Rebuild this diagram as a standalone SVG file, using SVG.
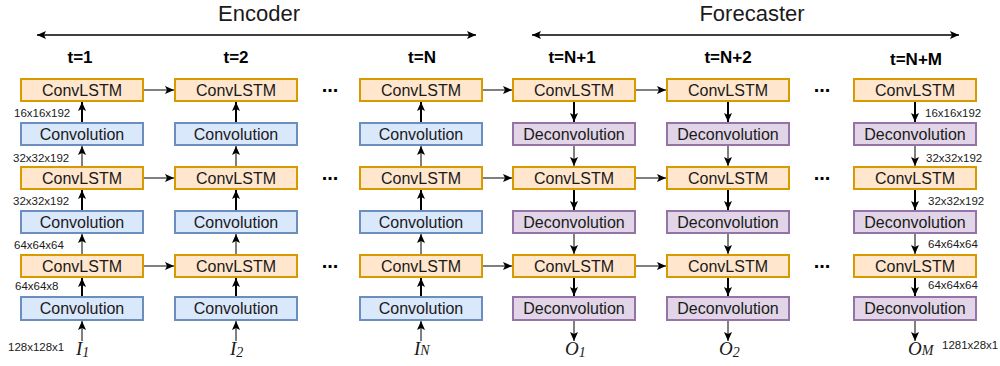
<svg xmlns="http://www.w3.org/2000/svg" width="1000" height="366" viewBox="0 0 1000 366">
<defs>
<marker id="ah" markerUnits="userSpaceOnUse" markerWidth="10" markerHeight="10" refX="9" refY="4" orient="auto">
<path d="M0,0 L9,4 L0,8 L2,4 Z" fill="#000"/>
</marker>
<marker id="ahs" markerUnits="userSpaceOnUse" markerWidth="10" markerHeight="10" refX="9" refY="4" orient="auto-start-reverse">
<path d="M0,0 L9,4 L0,8 L2,4 Z" fill="#000"/>
</marker>
</defs>
<style>
.lstm{fill:#ffe6cc;stroke:#d79b00;stroke-width:2}
.conv{fill:#dae8fc;stroke:#6c8ebf;stroke-width:2}
.deconv{fill:#e1d5e7;stroke:#9673a6;stroke-width:2}
.bt{font-family:"Liberation Sans",Arial,sans-serif;font-size:16px;fill:#1a1a1a;text-anchor:middle}
.title{font-family:"Liberation Sans",Arial,sans-serif;font-size:22px;fill:#1a1a1a;text-anchor:middle}
.t{font-family:"Liberation Sans",Arial,sans-serif;font-size:17px;font-weight:bold;fill:#000;text-anchor:middle}
.lbl{font-family:"Liberation Sans",Arial,sans-serif;font-size:11.5px;fill:#1a1a1a}
.dots{font-family:"Liberation Sans",Arial,sans-serif;font-size:20px;font-weight:bold;fill:#000;text-anchor:middle}
.io{font-family:"Liberation Serif","Times New Roman",serif;font-size:19px;font-style:italic;fill:#1a1a1a}
.a{stroke:#000;stroke-width:1;fill:none;marker-end:url(#ah)}
.a2{stroke:#000;stroke-width:2;fill:none;marker-end:url(#ah)}
.span{stroke:#000;stroke-width:1.5;fill:none;marker-start:url(#ahs);marker-end:url(#ahs)}
</style>

<g id="headers">
<line class="span" x1="37" y1="35" x2="476" y2="35"/>
<text class="title" x="259" y="21">Encoder</text>
<line class="span" x1="532" y1="35" x2="959" y2="35"/>
<text class="title" x="752" y="21">Forecaster</text>
<text class="t" x="80" y="63">t=1</text>
<text class="t" x="236" y="63">t=2</text>
<text class="t" x="422" y="63">t=N</text>
<text class="t" x="572" y="63">t=N+1</text>
<text class="t" x="728" y="63">t=N+2</text>
<text class="t" x="916" y="65">t=N+M</text>
</g>

<g id="col-t1">
<rect class="lstm" x="21" y="79" width="122" height="22"/><text class="bt" x="82" y="96">ConvLSTM</text>
<rect class="conv" x="21" y="123" width="122" height="22"/><text class="bt" x="82" y="140">Convolution</text>
<rect class="lstm" x="21" y="167" width="122" height="22"/><text class="bt" x="82" y="184">ConvLSTM</text>
<rect class="conv" x="21" y="211" width="122" height="22"/><text class="bt" x="82" y="228">Convolution</text>
<rect class="lstm" x="21" y="255" width="122" height="22"/><text class="bt" x="82" y="272">ConvLSTM</text>
<rect class="conv" x="21" y="297" width="122" height="23"/><text class="bt" x="82" y="314">Convolution</text>
</g>
<g id="col-t2">
<rect class="lstm" x="175" y="79" width="122" height="22"/><text class="bt" x="236" y="96">ConvLSTM</text>
<rect class="conv" x="175" y="123" width="122" height="22"/><text class="bt" x="236" y="140">Convolution</text>
<rect class="lstm" x="175" y="167" width="122" height="22"/><text class="bt" x="236" y="184">ConvLSTM</text>
<rect class="conv" x="175" y="211" width="122" height="22"/><text class="bt" x="236" y="228">Convolution</text>
<rect class="lstm" x="175" y="255" width="122" height="22"/><text class="bt" x="236" y="272">ConvLSTM</text>
<rect class="conv" x="175" y="297" width="122" height="23"/><text class="bt" x="236" y="314">Convolution</text>
</g>
<g id="col-tN">
<rect class="lstm" x="360" y="79" width="122" height="22"/><text class="bt" x="421" y="96">ConvLSTM</text>
<rect class="conv" x="360" y="123" width="122" height="22"/><text class="bt" x="421" y="140">Convolution</text>
<rect class="lstm" x="360" y="167" width="122" height="22"/><text class="bt" x="421" y="184">ConvLSTM</text>
<rect class="conv" x="360" y="211" width="122" height="22"/><text class="bt" x="421" y="228">Convolution</text>
<rect class="lstm" x="360" y="255" width="122" height="22"/><text class="bt" x="421" y="272">ConvLSTM</text>
<rect class="conv" x="360" y="297" width="122" height="23"/><text class="bt" x="421" y="314">Convolution</text>
</g>
<g id="col-tN1">
<rect class="lstm" x="513" y="79" width="122" height="22"/><text class="bt" x="574" y="96">ConvLSTM</text>
<rect class="deconv" x="513" y="123" width="122" height="22"/><text class="bt" x="574" y="140">Deconvolution</text>
<rect class="lstm" x="513" y="167" width="122" height="22"/><text class="bt" x="574" y="184">ConvLSTM</text>
<rect class="deconv" x="513" y="211" width="122" height="22"/><text class="bt" x="574" y="228">Deconvolution</text>
<rect class="lstm" x="513" y="255" width="122" height="22"/><text class="bt" x="574" y="272">ConvLSTM</text>
<rect class="deconv" x="513" y="297" width="122" height="23"/><text class="bt" x="574" y="314">Deconvolution</text>
</g>
<g id="col-tN2">
<rect class="lstm" x="667" y="79" width="122" height="22"/><text class="bt" x="728" y="96">ConvLSTM</text>
<rect class="deconv" x="667" y="123" width="122" height="22"/><text class="bt" x="728" y="140">Deconvolution</text>
<rect class="lstm" x="667" y="167" width="122" height="22"/><text class="bt" x="728" y="184">ConvLSTM</text>
<rect class="deconv" x="667" y="211" width="122" height="22"/><text class="bt" x="728" y="228">Deconvolution</text>
<rect class="lstm" x="667" y="255" width="122" height="22"/><text class="bt" x="728" y="272">ConvLSTM</text>
<rect class="deconv" x="667" y="297" width="122" height="23"/><text class="bt" x="728" y="314">Deconvolution</text>
</g>
<g id="col-tNM">
<rect class="lstm" x="854" y="79" width="122" height="22"/><text class="bt" x="915" y="96">ConvLSTM</text>
<rect class="deconv" x="854" y="123" width="122" height="22"/><text class="bt" x="915" y="140">Deconvolution</text>
<rect class="lstm" x="854" y="167" width="122" height="22"/><text class="bt" x="915" y="184">ConvLSTM</text>
<rect class="deconv" x="854" y="211" width="122" height="22"/><text class="bt" x="915" y="228">Deconvolution</text>
<rect class="lstm" x="854" y="255" width="122" height="22"/><text class="bt" x="915" y="272">ConvLSTM</text>
<rect class="deconv" x="854" y="297" width="122" height="23"/><text class="bt" x="915" y="314">Deconvolution</text>
</g>

<g id="dots">
<text class="dots" x="330" y="92">...</text>
<text class="dots" x="330" y="180">...</text>
<text class="dots" x="330" y="268">...</text>
<text class="dots" x="822" y="92">...</text>
<text class="dots" x="822" y="180">...</text>
<text class="dots" x="822" y="268">...</text>
</g>

<g id="connectors">
<line class="a" x1="82" y1="341" x2="82" y2="321"/>
<line class="a2" x1="82" y1="296" x2="82" y2="278"/>
<line class="a" x1="82" y1="254" x2="82" y2="234"/>
<line class="a2" x1="82" y1="210" x2="82" y2="190"/>
<line class="a" x1="82" y1="166" x2="82" y2="146"/>
<line class="a2" x1="82" y1="122" x2="82" y2="102"/>
<line class="a" x1="236" y1="341" x2="236" y2="321"/>
<line class="a2" x1="236" y1="296" x2="236" y2="278"/>
<line class="a" x1="236" y1="254" x2="236" y2="234"/>
<line class="a2" x1="236" y1="210" x2="236" y2="190"/>
<line class="a" x1="236" y1="166" x2="236" y2="146"/>
<line class="a2" x1="236" y1="122" x2="236" y2="102"/>
<line class="a" x1="421" y1="341" x2="421" y2="321"/>
<line class="a2" x1="421" y1="296" x2="421" y2="278"/>
<line class="a" x1="421" y1="254" x2="421" y2="234"/>
<line class="a2" x1="421" y1="210" x2="421" y2="190"/>
<line class="a" x1="421" y1="166" x2="421" y2="146"/>
<line class="a2" x1="421" y1="122" x2="421" y2="102"/>
<line class="a2" x1="574" y1="102" x2="574" y2="122"/>
<line class="a" x1="574" y1="146" x2="574" y2="166"/>
<line class="a2" x1="574" y1="190" x2="574" y2="210"/>
<line class="a" x1="574" y1="234" x2="574" y2="254"/>
<line class="a2" x1="574" y1="278" x2="574" y2="296"/>
<line class="a" x1="574" y1="321" x2="574" y2="341"/>
<line class="a2" x1="728" y1="102" x2="728" y2="122"/>
<line class="a" x1="728" y1="146" x2="728" y2="166"/>
<line class="a2" x1="728" y1="190" x2="728" y2="210"/>
<line class="a" x1="728" y1="234" x2="728" y2="254"/>
<line class="a2" x1="728" y1="278" x2="728" y2="296"/>
<line class="a" x1="728" y1="321" x2="728" y2="341"/>
<line class="a2" x1="915" y1="102" x2="915" y2="122"/>
<line class="a" x1="915" y1="146" x2="915" y2="166"/>
<line class="a2" x1="915" y1="190" x2="915" y2="210"/>
<line class="a" x1="915" y1="234" x2="915" y2="254"/>
<line class="a2" x1="915" y1="278" x2="915" y2="296"/>
<line class="a" x1="915" y1="321" x2="915" y2="341"/>
<line class="a" x1="144" y1="90" x2="174" y2="90"/>
<line class="a" x1="144" y1="178" x2="174" y2="178"/>
<line class="a" x1="144" y1="266" x2="174" y2="266"/>
<line class="a" x1="483" y1="90" x2="512" y2="90"/>
<line class="a" x1="483" y1="178" x2="512" y2="178"/>
<line class="a" x1="483" y1="266" x2="512" y2="266"/>
<line class="a" x1="636" y1="90" x2="666" y2="90"/>
<line class="a" x1="636" y1="178" x2="666" y2="178"/>
<line class="a" x1="636" y1="266" x2="666" y2="266"/>
</g>

<g id="labels">
<text class="lbl" x="14" y="117">16x16x192</text>
<text class="lbl" x="13" y="162">32x32x192</text>
<text class="lbl" x="13" y="205">32x32x192</text>
<text class="lbl" x="14" y="249">64x64x64</text>
<text class="lbl" x="15" y="290">64x64x8</text>
<text class="lbl" x="8" y="351">128x128x1</text>
<text class="lbl" x="925" y="117">16x16x192</text>
<text class="lbl" x="926" y="162">32x32x192</text>
<text class="lbl" x="928" y="205">32x32x192</text>
<text class="lbl" x="928" y="248">64x64x64</text>
<text class="lbl" x="928" y="289">64x64x64</text>
<text class="lbl" x="942" y="349">1281x28x1</text>
</g>

<g id="io">
<text class="io" x="76" y="355">I<tspan font-size="14" dy="2">1</tspan></text>
<text class="io" x="230" y="355">I<tspan font-size="14" dy="2">2</tspan></text>
<text class="io" x="414" y="355">I<tspan font-size="14">N</tspan></text>
<text class="io" x="565" y="355">O<tspan font-size="14" dy="2">1</tspan></text>
<text class="io" x="719" y="355">O<tspan font-size="14" dy="2">2</tspan></text>
<text class="io" x="908" y="355">O<tspan font-size="14">M</tspan></text>
</g>
</svg>
